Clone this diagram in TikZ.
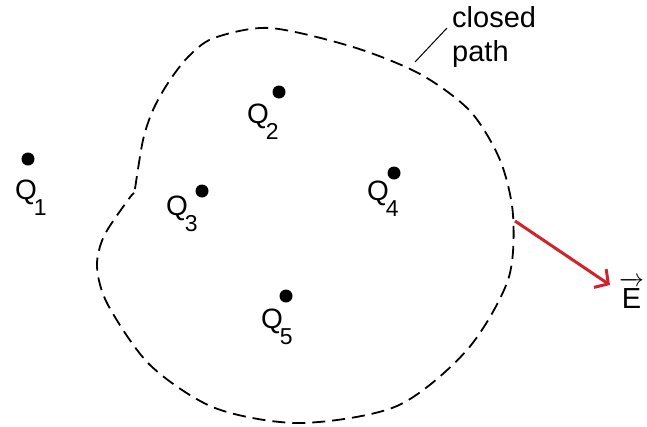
\documentclass[tikz,border=0pt]{standalone}
\usepackage{fontspec}
\setmainfont{Liberation Sans}
\usetikzlibrary{arrows.meta}
\definecolor{ered}{RGB}{210,35,45}
\newcommand\qlab[1]{Q\kern-3pt\raisebox{-16pt}{\fontsize{23}{23}\selectfont #1}}
\begin{document}
\begin{tikzpicture}[x=1pt,y=-1pt,
  charge/.style={circle,fill=black,inner sep=0pt,minimum size=13pt},
  qlabel/.style={anchor=base west,inner sep=0pt,font=\fontsize{28}{28}\selectfont},
  surf/.style={dash pattern=on 13pt off 7pt,line width=1.8pt},
  field/.style={draw=ered,line width=3pt,-{Straight Barb[length=10pt,width=22pt,line width=3pt]}}]
\useasboundingbox (0,0) rectangle (647,426);
% charges
\node[charge] (c1) at (28,159) {};
\node[charge] (c2) at (279,92) {};
\node[charge] (c3) at (202,191) {};
\node[charge] (c4) at (394,173) {};
\node[charge] (c5) at (286,296) {};
\node[qlabel] (q1) at (15,199) {\qlab{1}};
\node[qlabel] (q2) at (247,123) {\qlab{2}};
\node[qlabel] (q3) at (166,215) {\qlab{3}};
\node[qlabel] (q4) at (367,200) {\qlab{4}};
\node[qlabel] (q5) at (261,328) {\qlab{5}};
% closed path
\draw[surf] plot[smooth,tension=0.5] coordinates {(135,189) (143,140) (153,110) (168,83) (188,57) (214,38) (270,28) (353,47) (420,74) (470,111) (500,160) (513,215) (508,280) (467,350) (397,406) (300,423) (215,408) (150,365) (108,305) (97,267) (104,236) (128,200) (134,193)};
% label
\node[anchor=north west,inner sep=0pt,align=left,font=\fontsize{29}{34}\selectfont] (lbl) at (452,6) {closed\\path};
\coordinate (lt) at (415,62);
\coordinate (lf) at (447,28);
\draw[line width=1pt] (lt) -- (lf);
% field
\coordinate (es) at (515,221);
\node[anchor=base west,inner sep=0pt,font=\fontsize{29}{29}\selectfont] (E) at (619,308) {$\overrightarrow{\mbox{E}\rule{0pt}{23pt}}$};
\coordinate (et) at (610,285);
\draw[field] (es) -- (et);
\end{tikzpicture}
\end{document}
